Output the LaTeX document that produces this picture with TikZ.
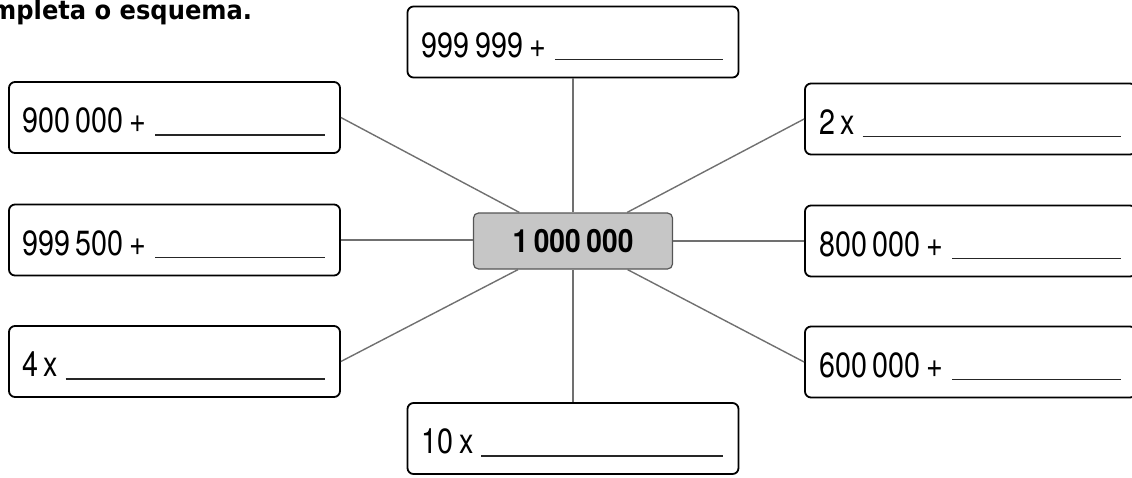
\documentclass[tikz,border=0pt]{standalone}
\usepackage{fontspec}
\usepackage{graphicx}
\usetikzlibrary{calc}
\newfontfamily\boxfont{TeX Gyre Heros}
\newfontfamily\titlefont{DejaVu Sans}
\newcommand\cond[2]{\scalebox{#1}[1]{#2}}
\definecolor{linegray}{HTML}{707070}
\definecolor{midfill}{HTML}{C6C6C6}
\definecolor{midedge}{HTML}{555555}
\tikzset{
  ansbox/.style={draw=black, line width=1.8pt, rounded corners=6pt,
    minimum width=331pt, minimum height=71pt, inner sep=0pt},
  anstext/.style={anchor=base west, inner sep=0pt,
    font={\boxfont\fontsize{35}{38}\selectfont\spaceskip=0.2em\relax}},
  uline/.style={draw=black!85, line width=1.6pt},
  conn/.style={draw=linegray, line width=1.4pt},
}
\begin{document}
\begin{tikzpicture}[x=1pt,y=-1pt]
\clip (0,0) rectangle (1132,477);
% title
\node[anchor=base west, inner sep=0pt,
  font={\titlefont\bfseries\fontsize{26}{29}\selectfont}] (title) at (-9,19) {\cond{0.93}{mpleta o esquema.}};
% centre
\node[draw=midedge, line width=1.2pt, fill=midfill, rounded corners=5pt,
  minimum width=199pt, minimum height=56pt, inner sep=0pt,
  font={\boxfont\bfseries\fontsize{32}{34}\selectfont\spaceskip=0.2em\relax}] (c) at (573,241) {\cond{0.88}{1 000 000}};
% boxes
\node[ansbox] (top) at (573,42) {};
\node[ansbox] (l1) at (174.5,117.5) {};
\node[ansbox] (l2) at (174.5,240) {};
\node[ansbox] (l3) at (174.5,361.5) {};
\node[ansbox] (r1) at (970.5,119) {};
\node[ansbox] (r2) at (970.5,241) {};
\node[ansbox] (r3) at (970.5,362) {};
\node[ansbox] (bot) at (573,438.5) {};
% texts
\node[anstext] (topt) at ($(top.west)+(15,15)$) {\cond{0.82}{999 999 +}};
\node[anstext] (l1t) at ($(l1.west)+(14,15)$) {\cond{0.82}{900 000 +}};
\node[anstext] (l2t) at ($(l2.west)+(14,15)$) {\cond{0.82}{999 500 +}};
\node[anstext] (l3t) at ($(l3.west)+(14,15)$) {\cond{0.82}{4 x}};
\node[anstext] (r1t) at ($(r1.west)+(15,15)$) {\cond{0.82}{2 x}};
\node[anstext] (r2t) at ($(r2.west)+(15,15)$) {\cond{0.82}{800 000 +}};
\node[anstext] (r3t) at ($(r3.west)+(15,15)$) {\cond{0.82}{600 000 +}};
\node[anstext] (bott) at ($(bot.west)+(15,15)$) {\cond{0.82}{10 x}};
% answer lines
\foreach \b/\g in {top/9,l1/9,l2/9,l3/7,r1/7,r2/9,r3/9,bot/7}{
  \path[uline] ($(\b t.base east)+(\g,2.5)$) -- ($(\b.east |- \b t.base)+(-16,2.5)$);
}
% connectors
\path[conn] (top) -- (c);
\path[conn] (bot) -- (c);
\path[conn] (l1.east) -- (c);
\path[conn] (l3.east) -- (c);
\path[conn] (r1.west) -- (c);
\path[conn] (r3.west) -- (c);
\path[conn] (l2.east) -- (l2.east -| c.west);
\path[conn] (r2.west) -- (r2.west -| c.east);
\end{tikzpicture}
\end{document}
